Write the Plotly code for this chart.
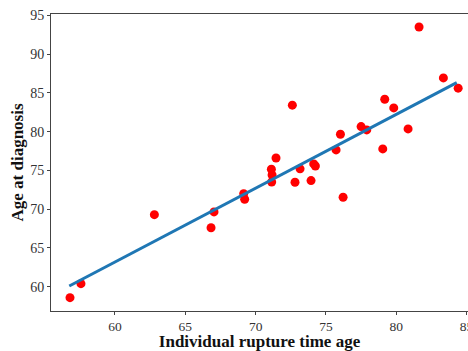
import plotly.graph_objects as go

rupture_age = [56.8, 57.58, 62.8, 66.83, 67.04, 69.15, 69.22, 71.12, 71.17, 71.14, 71.45,
               72.61, 72.8, 73.16, 73.94, 74.13, 74.25, 75.72, 76.03, 76.22, 77.5, 77.9,
               79.04, 79.18, 79.82, 80.84, 81.62, 83.35, 84.4]
diag_age = [58.58, 60.39, 69.29, 67.6, 69.64, 72.0, 71.27, 75.15, 74.4, 73.5, 76.6,
            83.41, 73.47, 75.2, 73.68, 75.83, 75.57, 77.64, 79.66, 71.53, 80.65, 80.22,
            77.77, 84.18, 83.06, 80.35, 93.5, 86.93, 85.6]
fit_x = [56.75, 84.3]
fit_y = [60.09, 86.32]

font_family = "Liberation Serif"

fig = go.Figure()
fig.add_trace(go.Scatter(x=rupture_age, y=diag_age, mode="markers",
                         marker=dict(color="#ff0000", size=9, line=dict(width=0)),
                         showlegend=False))
fig.add_trace(go.Scatter(x=fit_x, y=fit_y, mode="lines",
                         line=dict(color="#1f77b4", width=3), showlegend=False))

fig.update_layout(
    width=468, height=351,
    margin=dict(l=51, r=0, t=14, b=40),
    paper_bgcolor="white", plot_bgcolor="white",
    font=dict(family=font_family, color="#222222", size=14),
)
fig.update_xaxes(range=[55.45, 85.1], tickvals=[60, 65, 70, 75, 80, 85],
                 showgrid=False, zeroline=False, showline=True, mirror=True,
                 linecolor="#444444", linewidth=1, ticks="outside", ticklen=3,
                 tickcolor="#444444", automargin=False, ticklabeloverflow="allow",
                 tickfont=dict(family=font_family, size=13.5, color="#333333"),
                 title=dict(text="<b>Individual rupture time age</b>", standoff=8,
                            font=dict(family=font_family, size=17, color="#111111")))
fig.update_yaxes(range=[56.86, 95.17], tickvals=[60, 65, 70, 75, 80, 85, 90, 95],
                 showgrid=False, zeroline=False, showline=True, mirror=False,
                 linecolor="#444444", linewidth=1, ticks="outside", ticklen=3,
                 tickcolor="#444444", automargin=False,
                 tickfont=dict(family=font_family, size=14, color="#333333"),
                 title=dict(text="<b>Age at diagnosis</b>", standoff=2,
                            font=dict(family=font_family, size=17, color="#111111")))

fig.write_html("out.html")
